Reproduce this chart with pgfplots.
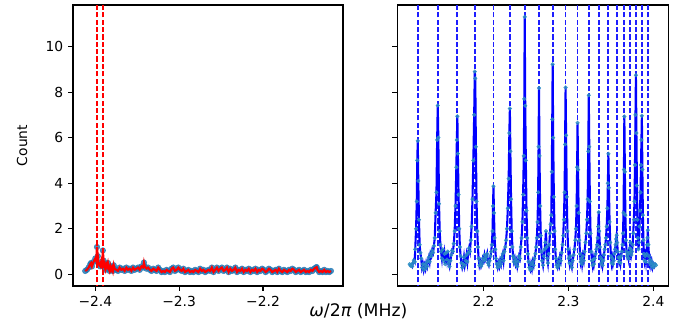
\documentclass[border=0pt]{standalone}
\usepackage{pgfplots}
\usepackage{pgfplotstable}
\pgfplotsset{compat=1.18}
\usepackage{fontspec}
\setmainfont{DejaVu Sans}
\definecolor{mplblue}{HTML}{1F77B4}
\definecolor{mkcyan}{HTML}{2E90C4}

\pgfplotstableread{
x y
-2.412 0.15
-2.410 0.20
-2.408 0.30
-2.406 0.45
-2.405 0.50
-2.404 0.35
-2.402 0.55
-2.400 0.70
-2.399 0.60
-2.398 1.20
-2.397 0.80
-2.396 0.45
-2.394 0.35
-2.393 0.55
-2.392 0.40
-2.391 1.05
-2.390 0.60
-2.389 0.30
-2.388 0.20
-2.387 0.45
-2.386 0.35
-2.385 0.50
-2.384 0.25
-2.383 0.15
-2.382 0.35
-2.381 0.20
-2.380 0.30
-2.379 0.15
-2.378 0.40
-2.377 0.25
-2.375 0.20
-2.373 0.15
-2.371 0.30
-2.369 0.20
-2.367 0.25
-2.365 0.15
-2.363 0.30
-2.361 0.20
-2.359 0.25
-2.357 0.15
-2.355 0.30
-2.353 0.20
-2.351 0.25
-2.349 0.30
-2.347 0.20
-2.345 0.35
-2.343 0.30
-2.342 0.52
-2.341 0.35
-2.339 0.25
-2.337 0.30
-2.335 0.20
-2.333 0.15
-2.331 0.25
-2.329 0.20
-2.327 0.15
-2.325 0.30
-2.323 0.20
-2.321 0.10
-2.319 0.15
-2.317 0.10
-2.315 0.20
-2.313 0.15
-2.311 0.10
-2.309 0.25
-2.307 0.30
-2.305 0.15
-2.303 0.20
-2.301 0.30
-2.299 0.20
-2.297 0.15
-2.295 0.25
-2.293 0.10
-2.291 0.15
-2.289 0.20
-2.287 0.10
-2.285 0.15
-2.283 0.10
-2.281 0.20
-2.279 0.15
-2.277 0.10
-2.275 0.25
-2.273 0.15
-2.271 0.20
-2.269 0.10
-2.267 0.15
-2.265 0.20
-2.263 0.15
-2.261 0.30
-2.259 0.10
-2.257 0.20
-2.255 0.30
-2.253 0.15
-2.251 0.25
-2.249 0.30
-2.247 0.15
-2.245 0.20
-2.243 0.30
-2.241 0.10
-2.239 0.25
-2.237 0.15
-2.235 0.20
-2.233 0.30
-2.231 0.10
-2.229 0.20
-2.227 0.15
-2.225 0.25
-2.223 0.10
-2.221 0.20
-2.219 0.15
-2.217 0.25
-2.215 0.10
-2.213 0.20
-2.211 0.15
-2.209 0.25
-2.207 0.10
-2.205 0.20
-2.203 0.15
-2.201 0.25
-2.199 0.20
-2.197 0.10
-2.195 0.15
-2.193 0.25
-2.191 0.20
-2.189 0.10
-2.187 0.15
-2.185 0.20
-2.183 0.10
-2.181 0.25
-2.179 0.15
-2.177 0.10
-2.175 0.20
-2.173 0.15
-2.171 0.10
-2.169 0.20
-2.167 0.15
-2.165 0.25
-2.163 0.20
-2.161 0.10
-2.159 0.15
-2.157 0.20
-2.155 0.10
-2.153 0.15
-2.151 0.20
-2.149 0.10
-2.147 0.15
-2.145 0.10
-2.143 0.20
-2.141 0.15
-2.139 0.25
-2.137 0.30
-2.136 0.32
-2.135 0.20
-2.133 0.10
-2.131 0.15
-2.129 0.10
-2.127 0.20
-2.125 0.10
-2.123 0.15
-2.121 0.10
-2.119 0.15
}\leftdata

\pgfplotstableread{
x y
2.1130 0.45
2.1140 0.38
2.1150 0.42
2.1160 0.35
2.1170 0.50
2.1180 0.62
2.1190 0.55
2.1196 1.10
2.1206 2.00
2.1214 3.20
2.1220 5.00
2.1226 5.86
2.1232 4.10
2.1240 2.40
2.1248 1.30
2.1256 0.95
2.1266 0.70
2.1276 0.30
2.1286 0.45
2.1296 0.20
2.1306 0.40
2.1316 0.25
2.1326 0.50
2.1336 0.35
2.1346 0.60
2.1356 0.75
2.1366 0.55
2.1376 0.90
2.1386 0.80
2.1396 1.05
2.1406 0.95
2.1416 1.25
2.1426 1.60
2.1436 2.70
2.1446 3.60
2.1454 5.90
2.1461 7.41
2.1468 6.00
2.1476 3.10
2.1484 1.90
2.1492 1.30
2.1500 1.00
2.1510 0.70
2.1520 1.10
2.1530 0.60
2.1540 0.90
2.1550 0.45
2.1560 0.95
2.1570 0.65
2.1580 1.00
2.1590 0.50
2.1600 0.35
2.1610 0.60
2.1620 0.85
2.1630 1.05
2.1640 1.00
2.1650 1.35
2.1660 1.90
2.1670 3.00
2.1680 4.70
2.1686 5.90
2.1692 6.94
2.1698 5.30
2.1706 3.50
2.1714 2.00
2.1722 1.20
2.1730 0.80
2.1740 0.50
2.1750 0.30
2.1760 0.45
2.1770 0.75
2.1780 0.40
2.1790 0.60
2.1800 0.85
2.1810 0.55
2.1820 0.95
2.1830 1.15
2.1840 1.00
2.1850 1.50
2.1860 2.10
2.1870 3.30
2.1880 5.00
2.1890 7.00
2.1897 8.90
2.1903 8.60
2.1910 5.60
2.1918 3.20
2.1926 1.90
2.1934 1.20
2.1942 0.70
2.1952 0.40
2.1962 0.55
2.1972 0.35
2.1982 0.45
2.1992 0.70
2.2002 0.60
2.2012 0.85
2.2022 0.65
2.2032 0.75
2.2042 0.90
2.2052 0.50
2.2062 0.40
2.2072 0.60
2.2082 0.80
2.2090 1.00
2.2098 1.30
2.2106 1.90
2.2112 3.00
2.2117 3.87
2.2123 2.70
2.2130 1.60
2.2138 1.10
2.2146 0.70
2.2156 0.45
2.2166 0.30
2.2176 0.50
2.2186 0.35
2.2196 0.60
2.2206 0.45
2.2216 0.75
2.2226 0.90
2.2236 0.60
2.2246 1.00
2.2256 1.20
2.2266 1.50
2.2276 2.00
2.2286 2.90
2.2296 4.20
2.2304 6.20
2.2310 7.28
2.2316 5.40
2.2324 3.30
2.2332 1.90
2.2340 1.20
2.2348 0.80
2.2358 0.55
2.2368 0.70
2.2378 0.45
2.2388 0.60
2.2398 0.35
2.2408 0.55
2.2418 0.80
2.2428 0.70
2.2438 1.20
2.2448 1.60
2.2458 2.30
2.2466 3.50
2.2474 5.20
2.2480 7.70
2.2485 11.30
2.2491 7.40
2.2498 5.00
2.2506 2.80
2.2514 1.60
2.2522 0.90
2.2530 0.55
2.2540 0.30
2.2550 0.20
2.2560 0.45
2.2570 0.25
2.2580 0.55
2.2590 0.40
2.2600 0.70
2.2610 0.90
2.2620 1.20
2.2628 1.60
2.2636 2.30
2.2643 3.60
2.2648 5.60
2.2653 8.18
2.2659 5.20
2.2666 3.00
2.2674 1.70
2.2682 1.00
2.2690 0.60
2.2700 0.40
2.2710 0.80
2.2720 1.10
2.2727 1.40
2.2735 1.90
2.2742 1.20
2.2750 0.70
2.2758 0.50
2.2766 0.90
2.2774 1.30
2.2782 1.80
2.2790 2.20
2.2798 2.60
2.2804 4.50
2.2809 6.80
2.2814 9.22
2.2820 6.00
2.2828 3.40
2.2836 1.90
2.2844 1.10
2.2852 0.70
2.2860 0.40
2.2870 0.30
2.2880 0.55
2.2890 0.40
2.2900 0.75
2.2910 0.60
2.2920 0.95
2.2930 1.30
2.2938 1.70
2.2946 2.40
2.2954 3.60
2.2960 5.70
2.2966 8.20
2.2972 6.10
2.2980 3.40
2.2988 1.90
2.2996 1.10
2.3004 0.70
2.3012 0.50
2.3020 0.80
2.3030 0.45
2.3040 0.30
2.3050 0.60
2.3060 0.85
2.3070 1.10
2.3080 1.50
2.3088 2.00
2.3096 3.00
2.3102 4.70
2.3107 6.65
2.3113 4.60
2.3120 2.70
2.3128 1.50
2.3136 0.90
2.3144 0.55
2.3152 0.70
2.3160 0.45
2.3170 0.80
2.3180 0.60
2.3190 1.00
2.3200 1.40
2.3210 1.80
2.3218 2.40
2.3226 3.30
2.3233 5.40
2.3239 7.86
2.3245 5.60
2.3252 3.20
2.3260 1.80
2.3268 1.00
2.3276 0.60
2.3284 0.40
2.3292 0.65
2.3300 0.45
2.3310 0.70
2.3320 0.90
2.3328 1.10
2.3336 1.30
2.3344 1.60
2.3350 2.10
2.3356 2.73
2.3362 1.90
2.3370 1.20
2.3378 0.75
2.3386 0.50
2.3394 0.65
2.3402 0.40
2.3410 0.60
2.3418 0.85
2.3426 1.10
2.3434 1.30
2.3442 1.60
2.3450 2.10
2.3458 2.90
2.3464 4.00
2.3470 5.29
2.3476 3.80
2.3484 2.30
2.3492 1.40
2.3500 0.80
2.3508 0.50
2.3516 0.70
2.3524 0.45
2.3532 0.60
2.3540 0.90
2.3548 1.10
2.3555 1.30
2.3561 1.55
2.3567 1.72
2.3573 1.40
2.3580 1.00
2.3588 0.75
2.3596 0.55
2.3604 0.70
2.3612 0.50
2.3620 0.80
2.3628 1.00
2.3636 1.30
2.3642 1.80
2.3648 2.70
2.3653 4.60
2.3658 6.93
2.3664 4.50
2.3670 2.60
2.3677 1.50
2.3684 1.00
2.3692 0.80
2.3700 0.90
2.3708 0.70
2.3716 0.95
2.3722 1.15
2.3728 1.40
2.3734 1.10
2.3740 0.85
2.3748 1.00
2.3755 1.30
2.3762 1.80
2.3770 2.40
2.3777 3.20
2.3783 4.80
2.3789 7.00
2.3794 8.74
2.3800 6.20
2.3806 3.90
2.3812 2.40
2.3818 1.60
2.3824 1.10
2.3830 1.40
2.3836 2.10
2.3842 2.80
2.3848 3.60
2.3854 4.80
2.3859 5.90
2.3864 6.96
2.3870 4.60
2.3876 2.60
2.3882 1.50
2.3888 0.90
2.3896 0.60
2.3904 0.80
2.3912 0.55
2.3920 0.90
2.3926 1.30
2.3930 1.60
2.3934 1.94
2.3940 1.30
2.3948 0.80
2.3956 0.50
2.3964 0.65
2.3972 0.40
2.3980 0.55
2.3990 0.30
2.4000 0.45
2.4010 0.35
2.4020 0.45
2.4030 0.40
}\rightdata

\begin{document}
\begin{tikzpicture}
\useasboundingbox (-52.56bp,-27.36bp) rectangle (438.48bp,205.92bp);
\pgfplotsset{
  every axis/.append style={
    scale only axis,
    height=202.32bp,
    ymin=-0.51, ymax=11.82,
    ytick={0,2,4,6,8,10},
    tick align=outside,
    major tick length=3.5bp,
    tick style={black, line width=0.8bp},
    axis line style={black, line width=0.8bp},
    xtick pos=bottom, ytick pos=left,
    tick label style={font=\fontsize{10}{12}\selectfont},
    /pgf/number format/assume math mode=true,
    clip=true,
    clip marker paths=true,
  },
}
\begin{axis}[
  at={(0bp,0bp)}, anchor=south west,
  width=194.4bp,
  xmin=-2.4266, xmax=-2.1046,
  xtick={-2.4,-2.3,-2.2},
  xticklabels={−2.4,−2.3,−2.2},
  ylabel={Count},
  every axis y label/.style={at={(rel axis cs:0,0.5)}, xshift=-36.7bp, rotate=90, anchor=center, font=\fontsize{10}{12}\selectfont},
]
\addplot[only marks, mark=*, mark size=2bp, mark options={fill=mplblue, draw=mplblue, opacity=0.8}] table {\leftdata};
\addplot[red, line width=1.5bp, no marks] table {\leftdata};
\pgfplotsinvokeforeach{-2.398,-2.3906}{
  \addplot[red, line width=1bp, dash pattern=on 3.7bp off 1.6bp, no marks] coordinates {(#1,-1) (#1,13)};
}
\end{axis}

\begin{axis}[
  at={(233.5bp,0bp)}, anchor=south west,
  width=195.1bp,
  xmin=2.0985, xmax=2.4175,
  xtick={2.2,2.3,2.4},
  xticklabels={2.2,2.3,2.4},
  yticklabels={},
]
\pgfplotsinvokeforeach{2.1226,2.1461,2.1692,2.1903,2.2117,2.2310,2.2485,2.2653,2.2814,2.2966,2.3107,2.3239,2.3356,2.3470,2.3567,2.3658,2.3728,2.3794,2.3864,2.3934}{
  \addplot[color={rgb,255:red,30;green,30;blue,255}, line width=1.3bp, dash pattern=on 3.7bp off 1.6bp, no marks] coordinates {(#1,-1) (#1,13)};
}
\addplot[blue, line width=1.5bp, no marks] table {\rightdata};
\addplot[only marks, mark=*, mark size=1.3bp, mark options={fill=mkcyan, draw=mkcyan, opacity=0.8}] table {\rightdata};
\end{axis}
\node[font=\fontsize{12.5}{15}\selectfont, anchor=base] at (205.5bp,-22.3bp) {\textit{ω}/2\textit{π} (MHz)};
\end{tikzpicture}
\end{document}
